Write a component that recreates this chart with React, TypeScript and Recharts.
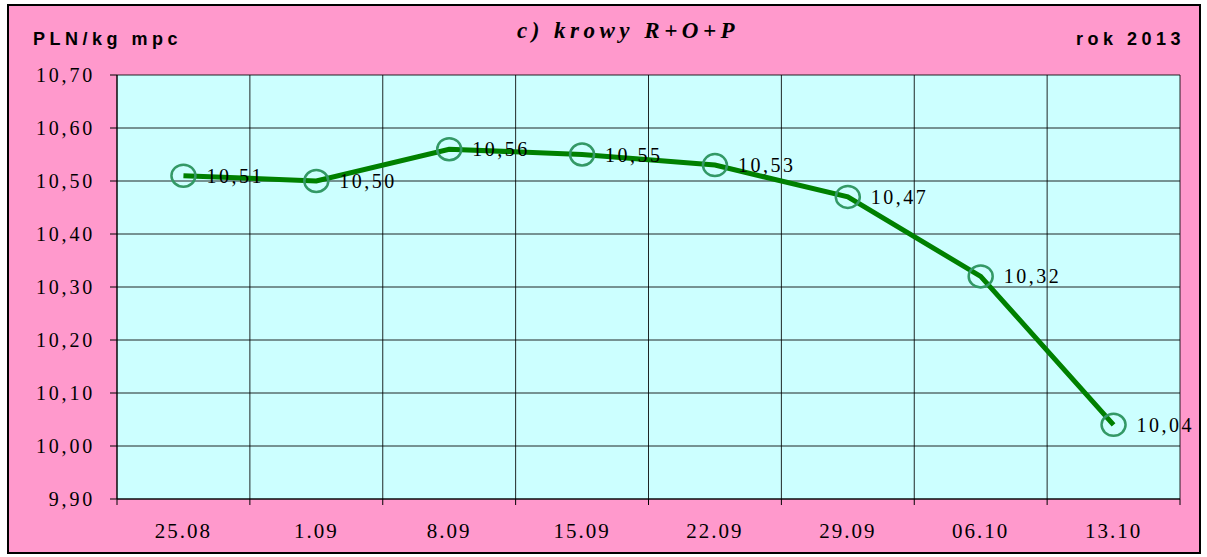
import React from "react"
import { LineChart, Line, XAxis, YAxis, CartesianGrid, LabelList } from "recharts"

const categories = ["25.08", "1.09", "8.09", "15.09", "22.09", "29.09", "06.10", "13.10"]
const prices = [10.51, 10.5, 10.56, 10.55, 10.53, 10.47, 10.32, 10.04]
const yTicks = [9.9, 10.0, 10.1, 10.2, 10.3, 10.4, 10.5, 10.6, 10.7]
const boundaries = [-0.5, 0.5, 1.5, 2.5, 3.5, 4.5, 5.5, 6.5, 7.5]
const centers = [0, 1, 2, 3, 4, 5, 6, 7]

const data = categories.map((c, i) => ({ idx: i, name: c, price: prices[i] }))

const fmt = (v: number) => v.toFixed(2).replace(".", ",")

const serif = "'Liberation Serif', 'Times New Roman', serif"
const sans = "'Liberation Sans', Arial, sans-serif"

function Ring(props: any) {
  const { cx, cy } = props
  if (cx == null || cy == null) return null
  return <ellipse cx={cx} cy={cy} rx={12} ry={11} fill="none" stroke="#339966" strokeWidth={2.5} />
}

function PriceLabel(props: any) {
  const { x, y, value } = props
  return (
    <text x={x + 23} y={y} dy={7} fontFamily={serif} fontSize={20} letterSpacing={2.5} fill="#000">
      {fmt(value)}
    </text>
  )
}

export default function App() {
  return (
    <div style={{ position: "absolute", left: 0, top: 0, width: 1207, height: 557, background: "#fff" }}>
      <div
        style={{
          position: "absolute",
          left: 7,
          top: 4,
          width: 1190,
          height: 546,
          background: "#FF99CC",
          border: "2px solid #000",
        }}
      />
      <div style={{ position: "absolute", left: 0, top: 0 }}>
        <LineChart width={1207} height={557} data={data} margin={{ top: 75, right: 27, left: 57, bottom: 20 }}>
          <CartesianGrid xAxisId="grid" fill="#CCFFFF" stroke="#000" strokeOpacity={0.85} strokeWidth={1} />
          <XAxis
            xAxisId="grid"
            type="number"
            dataKey="idx"
            domain={[-0.5, 7.5]}
            ticks={boundaries}
            tickFormatter={() => ""}
            height={8}
            tickSize={6}
            stroke="#000"
            allowDataOverflow
          />
          <XAxis
            xAxisId="lab"
            type="number"
            dataKey="idx"
            domain={[-0.5, 7.5]}
            ticks={centers}
            tickFormatter={(v: number) => categories[v]}
            height={30}
            axisLine={false}
            tickLine={false}
            tickMargin={10}
            tick={{ fontFamily: serif, fontSize: 21, fill: "#000", letterSpacing: 2 }}
          />
          <YAxis
            type="number"
            domain={[9.9, 10.7]}
            ticks={yTicks}
            tickFormatter={fmt}
            width={60}
            tickSize={7}
            tickMargin={15}
            stroke="#000"
            tick={{ fontFamily: serif, fontSize: 20, fill: "#000", letterSpacing: 2.8 }}
            allowDataOverflow
          />
          <Line
            xAxisId="grid"
            dataKey="price"
            stroke="#008000"
            strokeWidth={5}
            dot={<Ring />}
            activeDot={false}
            isAnimationActive={false}
          >
            <LabelList dataKey="price" content={<PriceLabel />} />
          </Line>
          <text x={628} y={38} textAnchor="middle" fontFamily={serif} fontSize={23} fontWeight="bold" fontStyle="italic" letterSpacing={4.5}>
            c) krowy R+O+P
          </text>
          <text x={33} y={45} fontFamily={sans} fontSize={18} fontWeight="bold" letterSpacing={4.5}>
            PLN/kg mpc
          </text>
          <text x={1185} y={45} textAnchor="end" fontFamily={sans} fontSize={18} fontWeight="bold" letterSpacing={4.5}>
            rok 2013
          </text>
        </LineChart>
      </div>
    </div>
  )
}
